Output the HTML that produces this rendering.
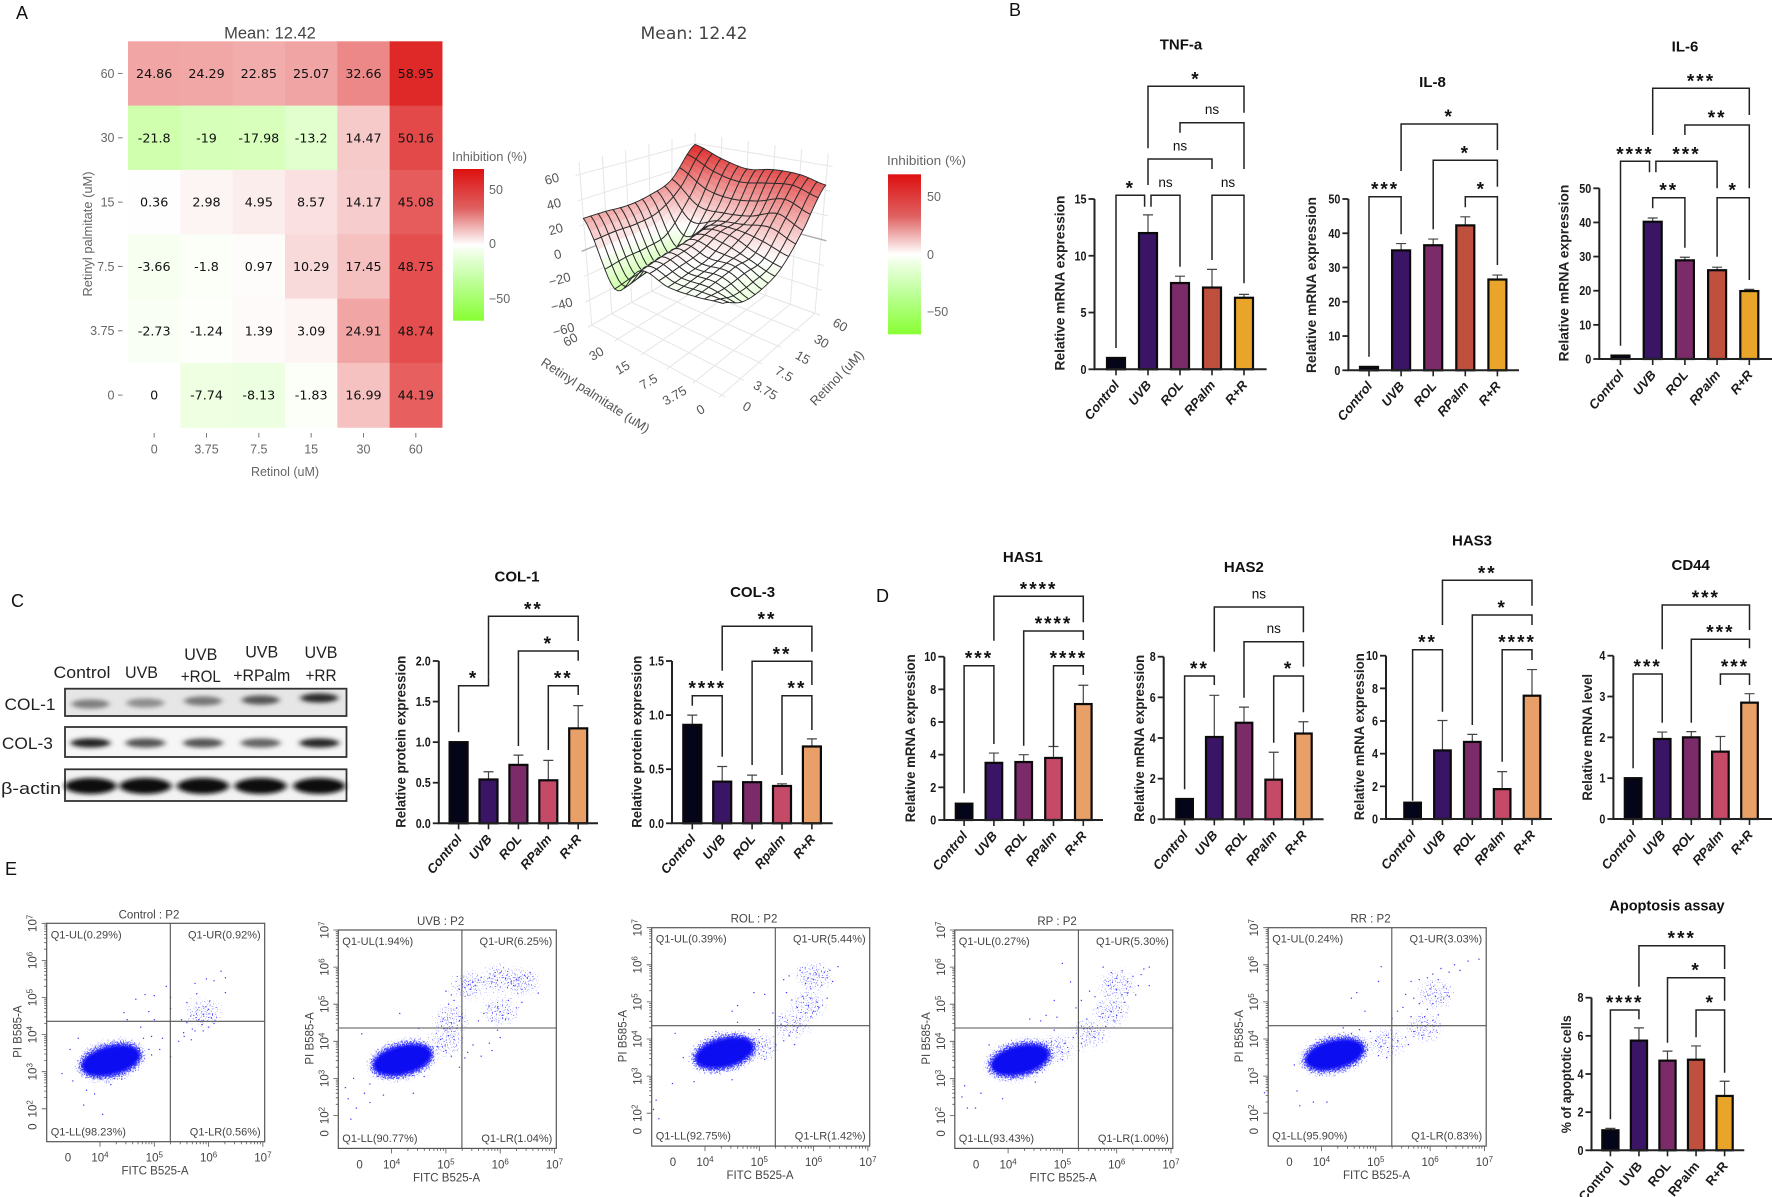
<!DOCTYPE html>
<html lang="en">
<head>
<meta charset="utf-8">
<title>Retinol and retinyl palmitate figure</title>
<style>
html,body{margin:0;padding:0;background:#fff;}
#figure{display:block;width:1772px;height:1197px;font-family:"Liberation Sans",sans-serif;filter:blur(0.35px);}
</style>
</head>
<body>
<svg id="figure" xmlns="http://www.w3.org/2000/svg" width="1772" height="1197" viewBox="0 0 1772 1197">
<defs>
<linearGradient id="inhibitionGradient" x1="0" y1="0" x2="0" y2="1">
<stop offset="0" stop-color="#de1010"/>
<stop offset="0.26" stop-color="#df6060"/>
<stop offset="0.47" stop-color="#fbecec"/>
<stop offset="0.5" stop-color="#ffffff"/>
<stop offset="0.54" stop-color="#f2ffea"/>
<stop offset="0.75" stop-color="#bcff96"/>
<stop offset="1" stop-color="#88ff33"/>
</linearGradient>
<filter id="bandBlur" x="-30%" y="-80%" width="160%" height="260%"><feGaussianBlur stdDeviation="3 2"/></filter>
<filter id="cloudBlur" x="-30%" y="-30%" width="160%" height="160%"><feGaussianBlur stdDeviation="1.4"/></filter>
<filter id="speckle" x="-70%" y="-70%" width="240%" height="240%" color-interpolation-filters="sRGB">
<feGaussianBlur in="SourceAlpha" stdDeviation="5" result="soft"/>
<feTurbulence type="fractalNoise" baseFrequency="0.8" numOctaves="1" seed="4" result="noise"/>
<feColorMatrix in="noise" type="matrix" values="0 0 0 0 0  0 0 0 0 0  0 0 0 0 0  1 0 0 0 0" result="noiseAlpha"/>
<feComposite in="soft" in2="noiseAlpha" operator="arithmetic" k1="0" k2="1" k3="1" k4="0" result="sum"/>
<feComponentTransfer in="sum" result="dots"><feFuncA type="linear" slope="6" intercept="-4.9"/></feComponentTransfer>
<feFlood flood-color="#3a3aff" result="ink"/>
<feComposite in="ink" in2="dots" operator="in"/>
</filter>
</defs>
<rect x="0" y="0" width="1772" height="1197" fill="#ffffff"/>

<text x="16" y="19" font-size="18" fill="#111">A</text>
<text x="1009" y="16" font-size="18" fill="#111">B</text>
<text x="11" y="607" font-size="18" fill="#111">C</text>
<text x="876" y="602" font-size="18" fill="#111">D</text>
<text x="5" y="875" font-size="18" fill="#111">E</text>

<text x="270" y="38.500" font-size="16.500" fill="#444" text-anchor="middle">Mean: 12.42</text>
<text x="694" y="39" font-size="17" fill="#444" text-anchor="middle" style="font-family:'DejaVu Sans',sans-serif" textLength="107" lengthAdjust="spacingAndGlyphs">Mean: 12.42</text>
<text x="285" y="476" font-size="12.5" fill="#666" text-anchor="middle">Retinol (uM)</text>
<text x="92" y="234" font-size="12.5" fill="#666" text-anchor="middle" transform="rotate(-90 92 234)" textLength="125" lengthAdjust="spacingAndGlyphs">Retinyl palmitate (uM)</text>
<text x="452" y="161" font-size="12.5" fill="#666" textLength="75" lengthAdjust="spacingAndGlyphs">Inhibition (%)</text>
<rect x="453" y="169" width="31" height="151.700" fill="url(#inhibitionGradient)"/>
<text x="489" y="194" font-size="12.5" fill="#666">50</text>
<text x="489" y="248" font-size="12.5" fill="#666">0</text>
<text x="489" y="303" font-size="12.5" fill="#666">−50</text>

<text x="887" y="165" font-size="12.5" fill="#666" textLength="79" lengthAdjust="spacingAndGlyphs">Inhibition (%)</text>
<rect x="888" y="174.300" width="33" height="160" fill="url(#inhibitionGradient)"/>
<text x="927" y="201" font-size="12.5" fill="#666">50</text>
<text x="927" y="259" font-size="12.5" fill="#666">0</text>
<text x="927" y="316" font-size="12.5" fill="#666">−50</text>
<text x="593" y="399" font-size="13" fill="#555" text-anchor="middle" transform="rotate(33 593 399)">Retinyl palmitate (uM)</text>
<text x="840" y="381" font-size="13" fill="#555" text-anchor="middle" transform="rotate(-46 840 381)">Retinol (uM)</text>

<g id="heatmap"></g>
<g id="surface"></g>
<g id="blot">
<text x="82" y="678" font-size="17" fill="#222" text-anchor="middle" textLength="57" lengthAdjust="spacingAndGlyphs">Control</text>
<text x="141.500" y="678" font-size="17" fill="#222" text-anchor="middle" textLength="33" lengthAdjust="spacingAndGlyphs">UVB</text>
<text x="200.800" y="660" font-size="17" fill="#222" text-anchor="middle" textLength="33" lengthAdjust="spacingAndGlyphs">UVB</text>
<text x="200.800" y="682" font-size="17" fill="#222" text-anchor="middle" textLength="40" lengthAdjust="spacingAndGlyphs">+ROL</text>
<text x="261.700" y="657.500" font-size="17" fill="#222" text-anchor="middle" textLength="33" lengthAdjust="spacingAndGlyphs">UVB</text>
<text x="261.700" y="681" font-size="17" fill="#222" text-anchor="middle" textLength="57" lengthAdjust="spacingAndGlyphs">+RPalm</text>
<text x="321" y="658" font-size="17" fill="#222" text-anchor="middle" textLength="33" lengthAdjust="spacingAndGlyphs">UVB</text>
<text x="321" y="681" font-size="17" fill="#222" text-anchor="middle" textLength="31" lengthAdjust="spacingAndGlyphs">+RR</text>
<text x="30" y="710" font-size="17" fill="#222" text-anchor="middle" textLength="51" lengthAdjust="spacingAndGlyphs">COL-1</text>
<text x="27.400" y="749" font-size="17" fill="#222" text-anchor="middle" textLength="51" lengthAdjust="spacingAndGlyphs">COL-3</text>
<text x="31" y="794" font-size="17" fill="#222" text-anchor="middle" textLength="60" lengthAdjust="spacingAndGlyphs" style="font-family:'Liberation Sans','DejaVu Sans',sans-serif">β-actin</text>
</g>
<g id="bars"></g>
<g id="flow"></g>
</svg>

<script>
/* ---------- heatmap / surface data ---------- */
const retinolLevels = ['0','3.75','7.5','15','30','60'];
const palmitateLevels = ['60','30','15','7.5','3.75','0'];
const inhibitionValues = [
  [24.86,24.29,22.85,25.07,32.66,58.95],
  [-21.8,-19,-17.98,-13.2,14.47,50.16],
  [0.36,2.98,4.95,8.57,14.17,45.08],
  [-3.66,-1.8,0.97,10.29,17.45,48.75],
  [-2.73,-1.24,1.39,3.09,24.91,48.74],
  [0,-7.74,-8.13,-1.83,16.99,44.19]
];
const surfaceZTicks = [-60,-40,-20,0,20,40,60];

/* ---------- bar chart data ---------- */
const treatmentLabels = ['Control','UVB','ROL','RPalm','R+R'];
const col3Labels = ['Control','UVB','ROL','Rpalm','R+R'];
const tnfValues = [1,12,7.6,7.2,6.3];
const tnfUpper = [1,13.6,8.2,8.8,6.6];
const tnfTicks = [0,5,10,15];
const il8Values = [1,35,36.5,42.3,26.5];
const il8Upper = [1,37,38.3,44.8,27.8];
const il8Ticks = [0,10,20,30,40,50];
const il6Values = [1,40.2,28.9,26,19.9];
const il6Upper = [1,41.3,29.8,26.9,20.4];
const il6Ticks = [0,10,20,30,40,50];
const col1Values = [1,0.54,0.72,0.53,1.17];
const col1Upper = [1,0.635,0.84,0.775,1.45];
const col1Ticks = [0,0.5,1,1.5,2];
const col3Values = [0.91,0.385,0.38,0.345,0.71];
const col3Upper = [1,0.525,0.445,0.365,0.78];
const col3Ticks = [0,0.5,1,1.5];
const has1Values = [1,3.5,3.55,3.8,7.1];
const has1Upper = [1,4.1,4,4.5,8.25];
const has1Ticks = [0,2,4,6,8,10];
const has2Values = [1,4.05,4.75,1.95,4.22];
const has2Upper = [1,6.1,5.52,3.3,4.8];
const has2Ticks = [0,2,4,6,8];
const has3Values = [1,4.2,4.72,1.83,7.55];
const has3Upper = [1,6.03,5.18,2.9,9.15];
const has3Ticks = [0,2,4,6,8,10];
const cd44Values = [1,1.96,2,1.65,2.85];
const cd44Upper = [1,2.13,2.14,2.02,3.07];
const cd44Ticks = [0,1,2,3,4];
const apoptosisValues = [1.05,5.75,4.7,4.75,2.85];
const apoptosisUpper = [1.15,6.42,5.2,5.47,3.62];
const apoptosisTicks = [0,2,4,6,8];

/* ---------- western blot band intensities (lane order) ---------- */
const col1Bands = [0.30,0.20,0.34,0.55,0.80];
const col3Bands = [0.85,0.55,0.55,0.45,0.82];
const actinBands = [1,1,1,1,1];

/* ---------- flow cytometry data: log10 fluorescence ---------- */
const flowTitles = ['Control : P2','UVB : P2','ROL : P2','RP : P2','RR : P2'];
const flowQuadrantsControl = ['0.29','0.92','98.23','0.56'];
const flowQuadrantsUvb = ['1.94','6.25','90.77','1.04'];
const flowQuadrantsRol = ['0.39','5.44','92.75','1.42'];
const flowQuadrantsRp = ['0.27','5.30','93.43','1.00'];
const flowQuadrantsRr = ['0.24','3.03','95.90','0.83'];
const flowCloudControl = [4.2,3.3];
const flowCloudUvb = [4.2,3.5];
const flowCloudRol = [4.36,3.63];
const flowCloudRp = [4.22,3.5];
const flowCloudRr = [4.24,3.58];
const flowDensityUvb = [[5.42,5.5],[6,5.7],[6.4,5.6],[6,4.8],[5.1,4.6],[5,4]];
const flowDensityRol = [[6,5.7],[5.9,4.9],[5.6,4.4],[5,3.8]];
const flowDensityRp = [[6,5.5],[5.9,4.8],[5.5,4.2],[4.9,3.8]];
const flowDensityRr = [[6.1,5.2],[5.9,4.3],[5.2,3.9]];
const flowDensityControl = [[5.9,4.6]];
const flowPointsControl = [[6.23,5.71],[6.31,5.53],[5.96,5.5],[6.1,5.45],[5.75,5.38],[6.31,5.13],[5.78,5.1],[6.02,4.9],[5.6,4.86],[6,4.68],[5.9,4.55],[6.05,4.45],[5.67,4.5],[5.82,4.4],[5.6,4.32],[5.88,4.27],[5.54,4.05],[5.68,3.86],[5.45,3.82],[5.22,5.3],[5.3,5],[5.3,4.7],[4.83,5.08],[4.66,4.95],[5,5.05],[4.44,4.59],[4.9,4.62],[5,4.4],[5.15,3.9],[4.5,4.4],[4.75,4.2],[4.95,3.95],[5.1,3.6],[5.5,4.4],[5.75,4.1],[5.9,4.1],[6.1,4.3],[6,4.2],[5.95,4.75],[5.55,3.95],[5.7,4.15],[3.7,2.1],[3.9,2.4],[3.5,2.75],[4.05,1.85],[3.3,2.95],[4.8,3.9],[4.9,3.6],[4.95,3.45],[4.7,3.3],[3.6,3.9],[3.45,3.6],[3.75,2.5],[4.2,2.65],[4.4,2.8],[5.3,3.4]];
const flowPointsUvb = [[5.42,5.53],[5.35,5.45],[5.5,5.6],[5.3,5.55],[5.45,5.4],[5.55,5.5],[5.25,5.4],[5.6,5.65],[5.65,5.72],[5.8,5.71],[5.9,5.75],[5.7,5.6],[5.95,5.65],[6,5.85],[5.85,5.6],[6.1,5.7],[6.2,5.6],[6.3,5.67],[6.35,5.72],[6.25,5.5],[6.45,5.78],[6.55,5.85],[6.5,5.7],[6.4,5.4],[6.7,5.3],[6.15,5.1],[6.3,4.9],[6.4,5.05],[6,4.8],[6.05,4.7],[5.95,4.9],[6.1,4.6],[6.15,4.75],[5.85,4.55],[5.8,4.95],[5.7,4.75],[5.6,4.55],[5.95,4.3],[6,4.1],[5.8,3.95],[5.85,3.75],[5.65,3.6],[5.5,3.9],[5.4,3.7],[5.1,5.25],[5,5.35],[5.15,5.1],[5.05,5],[5.2,4.9],[4.95,4.6],[5.1,4.5],[5.25,4.55],[5.2,4.35],[5,4.3],[5.05,4.15],[4.9,4.05],[5.15,4.05],[4.85,3.85],[5,3.75],[4.75,3.7],[5.1,3.6],[5.25,3.3],[5.35,3.55],[3.3,3],[3.15,2.75],[3.2,2.45],[3.35,2.2],[3.5,2.6],[3.6,2.35],[3.25,1.9],[3.6,2.85],[4.15,4.75],[3.45,4.2],[4.5,4.35],[4.6,3.05],[4.4,2.6],[3.85,2.55]];
const flowPointsRol = [[6.2,5.8],[6.1,5.7],[6,5.6],[6.05,5.75],[5.9,5.65],[6.25,5.65],[6.15,5.45],[5.95,5.35],[5.85,5.5],[5.75,5.85],[5.55,5.7],[5.45,5.6],[6.3,5.85],[6.45,5.95],[6.35,5.55],[5.95,5.1],[6.05,5],[5.9,4.9],[6.1,4.85],[6,4.75],[5.85,4.7],[5.95,4.6],[5.75,4.55],[5.7,4.85],[5.6,5.05],[5.8,5.15],[5.5,5.25],[6.25,5.1],[5.85,4.35],[5.7,4.3],[5.55,4.1],[5.45,3.95],[5.65,3.85],[5.3,3.85],[5.2,3.75],[5.4,4.4],[5.25,4.7],[5.1,5.2],[5,4.25],[5,3.9],[4.9,4],[5,3.6],[5.1,3.45],[4.75,3.55],[4.6,4.9],[4.5,4.75],[4.9,5.25],[4.6,4.45],[4.2,4.2],[4,3.9],[3.6,3.5],[3.45,4.15],[3.1,2.35],[3.05,2.1],[3.15,1.85],[3.4,2.8],[4.5,2.9],[3.8,2.85]];
const flowPointsRp = [[6.1,5.9],[6.3,5.75],[6.45,5.8],[6.5,5.95],[6.6,6],[6.4,5.5],[6.2,5.6],[6,5.7],[5.85,5.5],[5.9,5.85],[5.75,6],[6,5.4],[6.1,5.25],[5.95,5.05],[6.15,5.05],[6.35,5.25],[6.05,4.9],[5.9,4.8],[6,4.7],[5.95,4.55],[5.85,4.65],[5.75,4.75],[5.8,4.4],[5.65,4.9],[5.6,5.2],[5.5,5.35],[5.35,5.1],[5.25,4.9],[5.45,4.6],[5.3,4.5],[5.5,4.2],[5.35,3.95],[5.6,4.1],[5.3,3.75],[5.2,4.1],[5.05,3.95],[4.9,3.85],[5,3.7],[4.8,4],[5,3.5],[4.85,5.1],[4.85,4.3],[4.6,4.55],[4.4,4.6],[5.15,5.6],[5,6.1],[4.9,4.65],[4.7,4.7],[3.65,3.9],[3.2,2.8],[3.15,2.5],[3.25,2.2],[3.4,2.2],[3.5,2.6],[4.5,2.9],[3.9,2.45],[6.2,5.3],[6.6,5.5]];
const flowPointsRr = [[6.2,5.9],[6.05,5.75],[6.35,5.8],[6.45,6],[6.55,5.85],[6.7,6.1],[6.15,5.6],[5.95,5.65],[5.8,5.6],[5.65,5.55],[6.25,5.4],[6,5.35],[6.1,5.15],[6.2,5.05],[6.05,4.95],[5.95,4.8],[5.9,4.6],[5.85,4.45],[6.05,4.5],[6.15,4.65],[5.8,4.95],[5.7,5.1],[5.55,5.2],[5.5,4.85],[5.65,4.6],[5.4,4.75],[5.7,4.2],[5.85,4.1],[5.55,4.05],[5.4,3.95],[5.6,3.85],[5.3,3.65],[5.2,4.1],[5.1,3.8],[5,3.95],[4.9,4.2],[4.85,3.7],[5.05,3.55],[5.2,3.5],[4.7,4.25],[4.55,4.15],[4.4,4.3],[4.8,4.75],[4.55,5.1],[4.65,5.25],[5.05,5.55],[5.1,5.95],[5.3,4.55],[3.5,3.3],[2.95,2.55],[3.55,2.6],[3.85,2.3],[4.1,2.3],[3.6,2.2],[6.9,6.15],[6.35,5.15]];

/* ---------- shared helpers ---------- */
const svgNS = 'http://www.w3.org/2000/svg';
function make(tag, attrs, parent, text) {
  const el = document.createElementNS(svgNS, tag);
  for (const key in attrs) el.setAttribute(key, attrs[key]);
  if (text !== undefined) el.textContent = text;
  parent.appendChild(el);
  return el;
}
function inhibitionColor(v) {
  if (v >= 0) {
    const t = Math.min(1, v / 62);
    return 'rgb(' + Math.round(255 - 34 * t) + ',' + Math.round(255 - 225 * t) + ',' + Math.round(255 - 225 * t) + ')';
  }
  const t = Math.min(1, -v / 55);
  return 'rgb(' + Math.round(255 - 119 * t) + ',255,' + Math.round(255 - 204 * t) + ')';
}

/* ---------- heatmap ---------- */
(function drawHeatmap() {
  const g = document.getElementById('heatmap');
  const left = 128, top = 41.3, cw = 52.33, ch = 64.33;
  const xAt = c => left + c * cw;
  const yAt = r => top + r * ch;
  inhibitionValues.forEach((row, r) => {
    row.forEach((val, c) => {
      const cell = make('rect', {x: xAt(c), y: yAt(r), width: cw + 0.5, height: ch + 0.5, fill: inhibitionColor(val)}, g);
      
      
      const label = make('text', {x: xAt(c) + cw / 2, y: yAt(r) + ch / 2 + 4.6, 'font-size': 12.7, fill: '#111', 'text-anchor': 'middle', style: "font-family:'DejaVu Sans',sans-serif"}, g, String(val));
      
      
    });
  });
  palmitateLevels.forEach((name, r) => {
    const label = make('text', {x: 114.5, y: yAt(r) + ch / 2 + 4.4, 'font-size': 12.5, fill: '#666', 'text-anchor': 'end'}, g, name);
    
    
    const tick = make('line', {x1: 118, x2: 122.5, y1: yAt(r) + ch / 2, y2: yAt(r) + ch / 2, stroke: '#777', 'stroke-width': 1}, g);
    
    
  });
  retinolLevels.forEach((name, c) => {
    const label = make('text', {x: xAt(c) + cw / 2, y: 453.5, 'font-size': 12.5, fill: '#666', 'text-anchor': 'middle'}, g, name);
    
    
    const tick = make('line', {x1: xAt(c) + cw / 2, x2: xAt(c) + cw / 2, y1: 433, y2: 437.5, stroke: '#777', 'stroke-width': 1}, g);
    
    
  });
})();

/* ---------- 3D surface ---------- */
(function drawSurface() {
  const g = document.getElementById('surface');
  const floorFront = [721.7,395], floorLeft = [591.7,325], floorRight = [815,313.3], floorBack = [691.7,268.3];
  const upFront = [2,-183.3], upLeft = [-11.7,-150.7], upRight = [12.3,-147.7], upBack = [3.3,-125];
  const mix = (a, b, c, d, u, v, k) => (1 - u) * (1 - v) * a[k] + u * (1 - v) * b[k] + (1 - u) * v * c[k] + u * v * d[k];
  function project(ret, pal, z) {
    const u = ret / 5, v = pal / 5;
    const f = (z + 60) / 120;
    return [
      mix(floorFront, floorRight, floorLeft, floorBack, u, v, 0) + f * mix(upFront, upRight, upLeft, upBack, u, v, 0),
      mix(floorFront, floorRight, floorLeft, floorBack, u, v, 1) + f * mix(upFront, upRight, upLeft, upBack, u, v, 1)
    ];
  }
  const valueAt = (ret, pal) => inhibitionValues[5 - Math.max(0, Math.min(5, pal))][Math.max(0, Math.min(5, ret))];
  function spline(p0, p1, p2, p3, t) {
    return 0.5 * ((2 * p1) + (-p0 + p2) * t + (2 * p0 - 5 * p1 + 4 * p2 - p3) * t * t + (-p0 + 3 * p1 - 3 * p2 + p3) * t * t * t);
  }
  function surfaceHeight(ret, pal) {
    const i = Math.min(4, Math.floor(ret)), j = Math.min(4, Math.floor(pal));
    const tu = ret - i, tv = pal - j;
    const col = [];
    for (let m = -1; m <= 2; m++) {
      col.push(spline(valueAt(i - 1, j + m), valueAt(i, j + m), valueAt(i + 1, j + m), valueAt(i + 2, j + m), tu));
    }
    return spline(col[0], col[1], col[2], col[3], tv);
  }
  const pts = list => list.map(p => p[0].toFixed(1) + ',' + p[1].toFixed(1)).join(' ');

  const floorGrid = make('g', {stroke: '#e6e6e6', 'stroke-width': 1, fill: 'none'}, g);
  
  
  for (let i = 0; i <= 5; i++) {
    const a = make('polyline', {points: pts([project(i, -0.15, -60), project(i, 5, -60), project(i, 5, 70)])}, floorGrid);
    
    
    const b = make('polyline', {points: pts([project(-0.15, i, -60), project(5, i, -60), project(5, i, 70)])}, floorGrid);
    
    
  }
  surfaceZTicks.forEach(z => {
    const line = make('polyline', {points: pts([project(-0.2, 5, z), project(5, 5, z), project(5, -0.2, z)]), stroke: z === 0 ? '#a8a8a8' : '#e6e6e6', 'stroke-width': z === 0 ? 1.3 : 1, fill: 'none'}, g);
    
    
    const p = project(0, 5, z);
    const label = make('text', {x: p[0] - 28, y: p[1] + 9, 'font-size': 13, fill: '#555', 'text-anchor': 'middle', transform: 'rotate(-15 ' + (p[0] - 28) + ' ' + (p[1] + 5) + ')'}, g, z < 0 ? '−' + (-z) : String(z));
    
    
  });
  retinolLevels.forEach((name, i) => {
    const p = project(i, 0, -60);
    const label = make('text', {x: p[0] + 25, y: p[1] + 16, 'font-size': 13, fill: '#555', 'text-anchor': 'middle', transform: 'rotate(30 ' + (p[0] + 25) + ' ' + (p[1] + 12) + ')'}, g, name);
    
    
  });
  palmitateLevels.forEach((name, r) => {
    const p = project(0, 5 - r, -60);
    const label = make('text', {x: p[0] - 21, y: p[1] + 19, 'font-size': 13, fill: '#555', 'text-anchor': 'middle', transform: 'rotate(-30 ' + (p[0] - 21) + ' ' + (p[1] + 15) + ')'}, g, name);
    
    
  });

  const cells = 15, sub = 3, step = 5 / cells, fine = step / sub;
  for (let a = cells - 1; a >= 0; a--) {
    for (let b = cells - 1; b >= 0; b--) {
      const ret0 = a * step, pal0 = b * step;
      for (let m = sub - 1; m >= 0; m--) {
        for (let n = sub - 1; n >= 0; n--) {
          const r = ret0 + m * fine, q = pal0 + n * fine;
          const corners = [[r, q], [r + fine, q], [r + fine, q + fine], [r, q + fine]];
          const color = inhibitionColor(surfaceHeight(r + fine / 2, q + fine / 2));
          const face = make('polygon', {points: pts(corners.map(c => project(c[0], c[1], surfaceHeight(c[0], c[1])))), fill: color, stroke: color, 'stroke-width': 0.5}, g);
          
          
        }
      }
      const outline = [];
      for (let k = 0; k < sub; k++) outline.push([ret0 + k * fine, pal0]);
      for (let k = 0; k < sub; k++) outline.push([ret0 + step, pal0 + k * fine]);
      for (let k = 0; k < sub; k++) outline.push([ret0 + step - k * fine, pal0 + step]);
      for (let k = 0; k <= sub; k++) outline.push([ret0, pal0 + step - k * fine]);
      const mesh = make('polyline', {points: pts(outline.map(c => project(c[0], c[1], surfaceHeight(c[0], c[1])))), fill: 'none', stroke: '#2a2a2a', 'stroke-width': 0.95}, g);
      
      
    }
  }
})();

/* ---------- western blot ---------- */
(function drawBlot() {
  const g = document.getElementById('blot');
  const laneCenters = [90.5,145.4,203,260.6,319.3];
  const col1Offsets = [2,1,-1,-2,-4];
  function panel(name, top, height, bg, bands, centerY, bandW, bandH, offsets) {
    const frame = make('rect', {x: 65, y: top, width: 281.5, height: height, fill: bg, stroke: '#333', 'stroke-width': 1.8}, g);
    
    
    bands.forEach((level, i) => {
      const shade = Math.round(175 - level * 165);
      const band = make('ellipse', {cx: laneCenters[i], cy: centerY + (offsets ? offsets[i] : 0), rx: bandW, ry: bandH, fill: 'rgb(' + shade + ',' + shade + ',' + shade + ')', filter: 'url(#bandBlur)'}, g);
      
      
    });
  }
  panel('col1', 688.7, 27.3, '#e6e6e6', col1Bands, 702, 19, 4.6, col1Offsets);
  panel('col3', 727, 30, '#f6f6f6', col3Bands, 743, 20, 4.6, null);
  panel('actin', 769.3, 31.7, '#f2f2f2', actinBands, 786, 26, 8, null);
})();

/* ---------- bar charts ---------- */
const paletteWarm = ['#05051a','#3a1465','#7b2b68','#c0503e','#e8a52a'];
const paletteCool = ['#05051a','#3a1465','#7b2b68','#c44a68','#e89f68'];
function drawBarChart(cfg) {
  const root = document.getElementById('bars');
  const g = make('g', {}, root);
  
  
  const maxTick = cfg.ticks[cfg.ticks.length - 1];
  const yScale = v => cfg.baseY - (v / maxTick) * (cfg.baseY - cfg.topY);
  const xScale = i => cfg.firstX + i * cfg.stepX;

  const title = make('text', {x: cfg.titleX, y: cfg.titleY + 5.5, 'font-size': cfg.titleSize || 15, 'font-weight': 'bold', fill: '#111', 'text-anchor': 'middle'}, g, cfg.title);
  
  
  const yTitle = make('text', {x: cfg.yTitleX + 5, y: cfg.yTitleY, 'font-size': 14, 'font-weight': 'bold', fill: '#222', 'text-anchor': 'middle', transform: 'rotate(-90 ' + (cfg.yTitleX + 5) + ' ' + cfg.yTitleY + ')', textLength: cfg.yTitleLen, lengthAdjust: 'spacingAndGlyphs'}, g, cfg.yTitle);
  
  

  cfg.values.forEach((val, i) => {
    const x = xScale(i), yv = yScale(val), yu = yScale(cfg.upper[i]);
    if (cfg.upper[i] > val) {
      const err = make('path', {d: 'M' + x + ' ' + yv + 'V' + yu + 'M' + (x - 5) + ' ' + yu + 'H' + (x + 5), stroke: '#444', 'stroke-width': 1.2, fill: 'none'}, g);
      
      
    }
    const bar = make('rect', {x: x - cfg.barW / 2 + 1, y: yv, width: cfg.barW - 2, height: cfg.baseY - yv, fill: cfg.palette[i], stroke: '#0a0a0a', 'stroke-width': 2.2}, g);
    
    
    const tick = make('line', {x1: x, x2: x, y1: cfg.baseY, y2: cfg.baseY + 6, stroke: '#222', 'stroke-width': 1.6}, g);
    
    
    const lx = x + 4, ly = cfg.baseY + 16;
    const cat = make('text', {x: lx, y: ly, 'font-size': 13, 'font-weight': 'bold', 'font-style': cfg.upright ? 'normal' : 'italic', fill: '#1a1a1a', 'text-anchor': 'end', transform: 'rotate(-50 ' + lx + ' ' + ly + ')'}, g, cfg.categories[i]);
    
    
  });

  const axisPath = make('path', {d: 'M' + cfg.axisX + ' ' + cfg.topY + 'V' + cfg.baseY + 'H' + cfg.axisEnd, stroke: '#222', 'stroke-width': 2, fill: 'none'}, g);
  
  
  cfg.ticks.forEach(t => {
    const y = yScale(t);
    const tick = make('line', {x1: cfg.axisX - 6, x2: cfg.axisX, y1: y, y2: y, stroke: '#222', 'stroke-width': 1.8}, g);
    
    
    const tickText = t.toFixed(cfg.digits || 0);
    const label = make('text', {x: cfg.axisX - 8, y: y + 4.5, 'font-size': 12.5, 'font-weight': 'bold', fill: '#1a1a1a', 'text-anchor': 'end', textLength: tickText.length * 6 - (tickText.indexOf('.') >= 0 ? 3 : 0), lengthAdjust: 'spacingAndGlyphs'}, g, tickText);
    
    
  });

  cfg.brackets.forEach(b => {
    const x1 = xScale(b.from) + (b.dl || 0), x2 = xScale(b.to) + (b.dr || 0);
    const path = make('path', {d: 'M' + x1 + ' ' + b.left + 'V' + b.top + 'H' + x2 + 'V' + b.right, stroke: '#222', 'stroke-width': 1.5, fill: 'none'}, g);
    
    
    const isNs = b.label === 'ns';
    const sig = make('text', {x: (x1 + x2) / 2, y: isNs ? b.top - 8.5 : b.top - 1, 'font-size': isNs ? 13.5 : 19, 'font-weight': isNs ? 'normal' : 'bold', fill: '#111', 'text-anchor': 'middle', style: isNs ? '' : 'letter-spacing:2px'}, g, b.label);
    
    
  });
}

drawBarChart({name:'tnf-a', title:'TNF-a', titleX:1181, titleY:44, yTitle:'Relative mRNA expression', yTitleX:1059.4, yTitleY:283, yTitleLen:175,
  categories:treatmentLabels, values:tnfValues, upper:tnfUpper, ticks:tnfTicks, palette:paletteWarm,
  axisX:1094.5, axisEnd:1266.6, baseY:369.3, topY:199, firstX:1116, stepX:32, barW:20,
  brackets:[
    {from:0,to:1,top:195.3,left:348,right:206.7,label:'*',dr:-3.4},
    {from:1,to:2,top:195.3,left:206.7,right:266.7,label:'ns',dl:3},
    {from:3,to:4,top:195.3,left:260,right:283.3,label:'ns'},
    {from:1,to:3,top:159,left:185,right:169,label:'ns'},
    {from:2,to:4,top:122.7,left:132.7,right:169,label:'ns'},
    {from:1,to:4,top:86.3,left:148.3,right:112.7,label:'*'}
  ]});
drawBarChart({name:'il-8', title:'IL-8', titleX:1432.5, titleY:81.7, yTitle:'Relative mRNA expression', yTitleX:1310.9, yTitleY:285, yTitleLen:176,
  categories:treatmentLabels, values:il8Values, upper:il8Upper, ticks:il8Ticks, palette:paletteWarm,
  axisX:1348.4, axisEnd:1519, baseY:370.3, topY:199, firstX:1369, stepX:32.1, barW:20,
  brackets:[
    {from:0,to:1,top:196.7,left:356.7,right:234.3,label:'***'},
    {from:3,to:4,top:196.7,left:207.3,right:265,label:'*'},
    {from:2,to:4,top:160.3,left:229.3,right:186.7,label:'*'},
    {from:1,to:4,top:124,left:171,right:150,label:'*'}
  ]});
drawBarChart({name:'il-6', title:'IL-6', titleX:1685, titleY:46, yTitle:'Relative mRNA expression', yTitleX:1563.3, yTitleY:273, yTitleLen:176.7,
  categories:treatmentLabels, values:il6Values, upper:il6Upper, ticks:il6Ticks, palette:paletteWarm,
  axisX:1599.3, axisEnd:1772, baseY:359, topY:188.3, firstX:1620.5, stepX:32.2, barW:20,
  brackets:[
    {from:0,to:1,top:161.3,left:345.7,right:172.3,label:'****',dr:-3.2},
    {from:1,to:3,top:161.3,left:172.3,right:188.3,label:'***',dl:3.2},
    {from:1,to:2,top:197.7,left:208.3,right:247.7,label:'**'},
    {from:3,to:4,top:197.7,left:256.7,right:280,label:'*'},
    {from:2,to:4,top:125,left:135,right:188.3,label:'**'},
    {from:1,to:4,top:88.3,left:135,right:115,label:'***'}
  ]});
drawBarChart({name:'col-1', title:'COL-1', titleX:517, titleY:576, yTitle:'Relative protein expression', yTitleX:400.4, yTitleY:741.7, yTitleLen:172, digits:1,
  categories:treatmentLabels, values:col1Values, upper:col1Upper, ticks:col1Ticks, palette:paletteCool,
  axisX:438.8, axisEnd:598, baseY:823.3, topY:661, firstX:458.6, stepX:29.9, barW:20,
  brackets:[
    {from:0,to:1,top:685.7,left:732.3,right:676.7,label:'*'},
    {from:3,to:4,top:685.7,left:750,right:695,label:'**'},
    {from:2,to:4,top:651,left:746,right:660.7,label:'*'},
    {from:1,to:4,top:616.3,left:676.7,right:641,label:'**'}
  ]});
drawBarChart({name:'col-3', title:'COL-3', titleX:752.6, titleY:591.7, yTitle:'Relative protein expression', yTitleX:636.3, yTitleY:741.7, yTitleLen:172, digits:1,
  categories:col3Labels, values:col3Values, upper:col3Upper, ticks:col3Ticks, palette:paletteCool,
  axisX:672, axisEnd:832.7, baseY:823.3, topY:661, firstX:692.3, stepX:29.9, barW:20,
  brackets:[
    {from:0,to:1,top:695.7,left:705.7,right:756.7,label:'****'},
    {from:3,to:4,top:695.7,left:775,right:730,label:'**'},
    {from:2,to:4,top:661.3,left:765,right:685,label:'**'},
    {from:1,to:4,top:626.3,left:670.7,right:651.7,label:'**'}
  ]});
drawBarChart({name:'has1', title:'HAS1', titleX:1022.9, titleY:556.7, yTitle:'Relative mRNA expression', yTitleX:910, yTitleY:738.3, yTitleLen:168,
  categories:treatmentLabels, values:has1Values, upper:has1Upper, ticks:has1Ticks, palette:paletteCool,
  axisX:944.3, axisEnd:1103, baseY:820, topY:656.7, firstX:964.1, stepX:29.8, barW:18.6,
  brackets:[
    {from:0,to:1,top:665.7,left:793.3,right:744,label:'***'},
    {from:3,to:4,top:665.7,left:746.7,right:675,label:'****'},
    {from:2,to:4,top:631,left:745.7,right:640,label:'****'},
    {from:1,to:4,top:596.3,left:640.7,right:622.3,label:'****'}
  ]});
drawBarChart({name:'has2', title:'HAS2', titleX:1243.9, titleY:566.7, yTitle:'Relative mRNA expression', yTitleX:1139.2, yTitleY:738.3, yTitleLen:167,
  categories:treatmentLabels, values:has2Values, upper:has2Upper, ticks:has2Ticks, palette:paletteCool,
  axisX:1163.7, axisEnd:1323.6, baseY:819.3, topY:656.7, firstX:1184.6, stepX:29.7, barW:18.6,
  brackets:[
    {from:0,to:1,top:676,left:789.3,right:685,label:'**'},
    {from:3,to:4,top:676,left:742.7,right:712.3,label:'*'},
    {from:2,to:4,top:641.7,left:697.7,right:666.7,label:'ns'},
    {from:1,to:4,top:607,left:651.7,right:632.3,label:'ns'}
  ]});
drawBarChart({name:'has3', title:'HAS3', titleX:1472, titleY:540, yTitle:'Relative mRNA expression', yTitleX:1359, yTitleY:736.7, yTitleLen:167,
  categories:treatmentLabels, values:has3Values, upper:has3Upper, ticks:has3Ticks, palette:paletteCool,
  axisX:1386, axisEnd:1552, baseY:819, topY:655.7, firstX:1412.6, stepX:29.85, barW:18.6,
  brackets:[
    {from:0,to:1,top:649.7,left:800.7,right:711.7,label:'**'},
    {from:3,to:4,top:649.7,left:761.7,right:660,label:'****'},
    {from:2,to:4,top:615,left:725,right:625,label:'*'},
    {from:1,to:4,top:580.3,left:625,right:605.7,label:'**'}
  ]});
drawBarChart({name:'cd44', title:'CD44', titleX:1690.7, titleY:564.3, yTitle:'Relative mRNA level', yTitleX:1587, yTitleY:737.3, yTitleLen:126.7,
  categories:treatmentLabels, values:cd44Values, upper:cd44Upper, ticks:cd44Ticks, palette:paletteCool,
  axisX:1613.4, axisEnd:1772, baseY:819, topY:655.7, firstX:1633.1, stepX:29.1, barW:18.6,
  brackets:[
    {from:0,to:1,top:674,left:768.3,right:722.7,label:'***'},
    {from:3,to:4,top:674,left:685,right:685,label:'***'},
    {from:2,to:4,top:639.3,left:722.7,right:648.3,label:'***'},
    {from:1,to:4,top:605,left:649.3,right:630,label:'***'}
  ]});
drawBarChart({name:'apoptosis', title:'Apoptosis assay', titleSize:14.5, titleX:1667, titleY:905, yTitle:'% of apoptotic cells', yTitleX:1566, yTitleY:1074.3, yTitleLen:118, upright:true,
  categories:treatmentLabels, values:apoptosisValues, upper:apoptosisUpper, ticks:apoptosisTicks, palette:paletteWarm,
  axisX:1591.5, axisEnd:1744.3, baseY:1150.3, topY:997.7, firstX:1610.4, stepX:28.55, barW:18.2,
  brackets:[
    {from:0,to:1,top:1010,left:1119.3,right:1019.3,label:'****'},
    {from:3,to:4,top:1010,left:1037.3,right:1072.7,label:'*'},
    {from:2,to:4,top:977.7,left:1042.7,right:1000.7,label:'*'},
    {from:1,to:4,top:945.7,left:986.7,right:969,label:'***'}
  ]});

/* ---------- flow cytometry panels ---------- */
function drawFlowPanel(cfg) {
  const root = document.getElementById('flow');
  const g = make('g', {}, root);
  
  
  const L = cfg.left, T = cfg.top, W = 218, H = 218.4;
  const xScale = lx => L + 53.3 + (lx - 4) * 54.3;
  const yScale = ly => T + (7 - ly) * 37.1;

  cfg.density.forEach(d => {
    const patch = make('ellipse', {cx: xScale(d[0]), cy: yScale(d[1]), rx: 21, ry: 17, fill: '#2c2cff', 'fill-opacity': 0.25, filter: 'url(#speckle)'}, g);
    
    
  });
  const cx = xScale(cfg.cloud[0]), cy = yScale(cfg.cloud[1]);
  const halo = make('ellipse', {cx: cx, cy: cy, rx: 35, ry: 19, fill: '#2c2cff', 'fill-opacity': 0.6, filter: 'url(#speckle)', transform: 'rotate(-14 ' + cx + ' ' + cy + ')'}, g);
  
  
  const core = make('ellipse', {cx: cx, cy: cy, rx: 29, ry: 13.5, fill: '#0e0ef2', filter: 'url(#cloudBlur)', transform: 'rotate(-14 ' + cx + ' ' + cy + ')'}, g);
  
  
  cfg.points.forEach(p => {
    const dot = make('circle', {cx: xScale(p[0]), cy: yScale(p[1]), r: 0.7, fill: '#3a3aff'}, g);
    
    
  });

  const frame = make('rect', {x: L, y: T, width: W, height: H, fill: 'none', stroke: '#555', 'stroke-width': 1.2}, g);
  
  
  const vGate = make('line', {x1: L + 123.6, x2: L + 123.6, y1: T, y2: T + H, stroke: '#555', 'stroke-width': 1.1}, g);
  
  
  const hGate = make('line', {x1: L, x2: L + W, y1: T + 98, y2: T + 98, stroke: '#555', 'stroke-width': 1.1}, g);
  
  

  let d = '';
  [4,5,6].forEach(dec => { [1,2,3,4,5,6,7,8,9].forEach(m => {
    const x = xScale(dec + Math.log10(m));
    d += 'M' + x.toFixed(1) + ' ' + (T + H) + 'v' + (m === 1 ? 5 : 2.5);
  }); });
  [2,3,4,5,6].forEach(dec => { [1,2,3,4,5,6,7,8,9].forEach(m => {
    const y = yScale(dec + Math.log10(m));
    d += 'M' + L + ' ' + y.toFixed(1) + 'h' + (m === 1 ? -5 : -2.5);
  }); });
  d += 'M' + xScale(7) + ' ' + (T + H) + 'v5M' + L + ' ' + yScale(7) + 'h-5';
  const rug = make('path', {d: d, stroke: '#555', 'stroke-width': 0.8, fill: 'none'}, g);
  
  

  const xZero = make('text', {x: L + 21.3, y: T + H + 20, 'font-size': 11.5, fill: '#444', 'text-anchor': 'middle'}, g, '0');
  
  
  const yZeroX = L - 10, yZeroY = T + 203.4;
  const yZero = make('text', {x: yZeroX, y: yZeroY, 'font-size': 11.5, fill: '#444', 'text-anchor': 'middle', transform: 'rotate(-90 ' + yZeroX + ' ' + yZeroY + ')'}, g, '0');
  
  
  [4,5,6,7].forEach(dec => {
    const label = make('text', {x: xScale(dec), y: T + H + 20, 'font-size': 11.5, fill: '#444', 'text-anchor': 'middle'}, g, '10');
    
    
    make('tspan', {dy: -4, 'font-size': 8}, label, String(dec));
  });
  [2,3,4,5,6,7].forEach(dec => {
    const y = yScale(dec);
    const label = make('text', {x: L - 10, y: y, 'font-size': 11.5, fill: '#444', 'text-anchor': 'middle', transform: 'rotate(-90 ' + (L - 10) + ' ' + y + ')'}, g, '10');
    
    
    make('tspan', {dy: -4, 'font-size': 8}, label, String(dec));
  });

  const title = make('text', {x: L + 102.3, y: T - 5, 'font-size': 11.5, fill: '#444', 'text-anchor': 'middle'}, g, cfg.title);
  
  
  const xTitle = make('text', {x: L + 108.3, y: T + H + 33, 'font-size': 11.5, fill: '#444', 'text-anchor': 'middle'}, g, 'FITC B525-A');
  
  
  const ytx = L - 25, yty = T + 108.4;
  const yTitle = make('text', {x: ytx, y: yty, 'font-size': 11.5, fill: '#444', 'text-anchor': 'middle', transform: 'rotate(-90 ' + ytx + ' ' + yty + ')'}, g, 'PI B585-A');
  
  

  const ul = make('text', {x: L + 4, y: T + 15, 'font-size': 11, fill: '#444'}, g, 'Q1-UL(' + cfg.quadrants[0] + '%)');
  
  
  const ur = make('text', {x: L + W - 4, y: T + 15, 'font-size': 11, fill: '#444', 'text-anchor': 'end'}, g, 'Q1-UR(' + cfg.quadrants[1] + '%)');
  
  
  const ll = make('text', {x: L + 4, y: T + 212, 'font-size': 11, fill: '#444'}, g, 'Q1-LL(' + cfg.quadrants[2] + '%)');
  
  
  const lr = make('text', {x: L + W - 4, y: T + 212, 'font-size': 11, fill: '#444', 'text-anchor': 'end'}, g, 'Q1-LR(' + cfg.quadrants[3] + '%)');
  
  
}
drawFlowPanel({name:'control', title:flowTitles[0], left:46.7, top:923.3, cloud:flowCloudControl, density:flowDensityControl, points:flowPointsControl, quadrants:flowQuadrantsControl});
drawFlowPanel({name:'uvb', title:flowTitles[1], left:338.3, top:930, cloud:flowCloudUvb, density:flowDensityUvb, points:flowPointsUvb, quadrants:flowQuadrantsUvb});
drawFlowPanel({name:'rol', title:flowTitles[2], left:651.7, top:927.7, cloud:flowCloudRol, density:flowDensityRol, points:flowPointsRol, quadrants:flowQuadrantsRol});
drawFlowPanel({name:'rp', title:flowTitles[3], left:954.8, top:930, cloud:flowCloudRp, density:flowDensityRp, points:flowPointsRp, quadrants:flowQuadrantsRp});
drawFlowPanel({name:'rr', title:flowTitles[4], left:1268.2, top:927.7, cloud:flowCloudRr, density:flowDensityRr, points:flowPointsRr, quadrants:flowQuadrantsRr});
</script>
</body>
</html>
